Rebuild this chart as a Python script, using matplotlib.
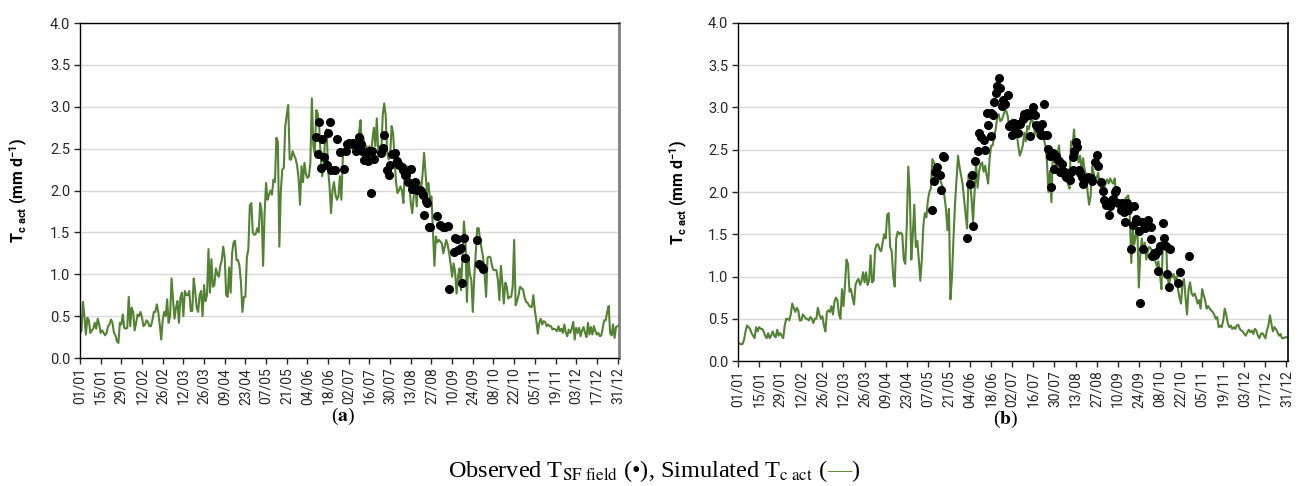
import matplotlib
matplotlib.use("Agg")
import matplotlib.pyplot as plt
import numpy as np

# Daily simulated T_c act (mm/d), day 0 = 01/01 ... day 364 = 31/12
sim_a = [
    0.30, 0.32, 0.67, 0.50, 0.28, 0.48, 0.45, 0.30, 0.33, 0.35,
    0.42, 0.35, 0.47, 0.40, 0.30, 0.33, 0.30, 0.27, 0.30, 0.38,
    0.40, 0.46, 0.42, 0.30, 0.27, 0.20, 0.18, 0.42, 0.40, 0.52,
    0.36, 0.35, 0.36, 0.73, 0.38, 0.60, 0.55, 0.33, 0.42, 0.52,
    0.50, 0.55, 0.48, 0.38, 0.40, 0.45, 0.43, 0.38, 0.38, 0.45,
    0.55, 0.55, 0.64, 0.55, 0.40, 0.22, 0.45, 0.55, 0.50, 0.70,
    0.42, 0.50, 0.95, 0.70, 0.47, 0.60, 0.68, 0.42, 0.72, 0.78,
    0.50, 0.80, 0.75, 0.75, 0.80, 0.56, 0.56, 0.95, 0.80, 0.60,
    0.55, 0.75, 0.80, 0.50, 0.87, 0.68, 0.75, 1.30, 0.78, 1.18,
    0.85, 0.87, 1.07, 1.00, 0.97, 1.10, 1.17, 1.33, 1.20, 0.75,
    0.73, 1.08, 0.78, 1.25, 1.38, 1.40, 1.17, 1.17, 1.10, 0.90,
    0.55, 0.73, 0.73, 1.20, 1.30, 1.82, 1.85, 1.50, 1.47, 1.48,
    1.55, 1.50, 1.85, 1.75, 1.10, 1.73, 2.09, 1.89, 1.95, 2.00,
    1.95, 2.13, 2.10, 2.63, 2.58, 1.33, 2.00, 2.25, 2.27, 2.77,
    2.90, 3.02, 2.37, 2.37, 2.47, 2.42, 2.38, 2.30, 2.15, 1.83,
    2.29, 2.10, 2.33, 2.20, 2.15, 2.17, 2.33, 3.10, 2.53, 2.45,
    2.96, 2.92, 2.75, 2.40, 2.17, 2.29, 2.65, 2.73, 2.25, 2.05,
    1.73, 2.00, 2.10, 1.95, 1.89, 1.93, 2.17, 1.89, 2.40, 2.45,
    2.50, 2.53, 2.55, 2.55, 2.53, 2.60, 2.55, 2.53, 2.57, 2.70,
    2.84, 2.45, 2.63, 2.45, 2.53, 2.37, 2.53, 2.35, 2.60, 2.75,
    2.53, 2.86, 2.45, 2.53, 2.45, 2.90, 3.04, 2.90, 2.45, 2.37,
    2.40, 2.77, 2.69, 2.40, 2.10, 1.97, 2.00, 2.05, 2.00, 1.85,
    2.27, 2.17, 2.29, 2.10, 1.85, 1.73, 1.93, 2.13, 1.81, 2.13,
    2.09, 2.00, 2.20, 2.45, 2.20, 1.97, 2.09, 1.89, 1.93, 1.50,
    1.10, 1.45, 1.38, 1.41, 1.39, 1.37, 1.25, 1.33, 1.41, 1.35,
    1.25, 1.12, 0.97, 1.13, 1.03, 0.77, 0.97, 1.07, 0.81, 1.20,
    1.63, 1.40, 0.67, 1.20, 1.00, 0.93, 0.55, 0.98, 1.25, 1.55,
    1.55, 1.40, 1.30, 1.20, 1.00, 0.73, 1.20, 1.21, 1.20, 1.10,
    1.05, 1.05, 1.05, 0.93, 0.69, 1.10, 0.90, 0.65, 0.90, 0.85,
    0.71, 0.73, 0.73, 0.85, 1.41, 0.63, 0.68, 0.75, 0.85, 0.83,
    0.82, 0.73, 0.67, 0.66, 0.63, 0.61, 0.61, 0.75, 0.57, 0.45,
    0.29, 0.42, 0.47, 0.40, 0.44, 0.43, 0.38, 0.40, 0.38, 0.38,
    0.34, 0.35, 0.34, 0.32, 0.38, 0.32, 0.35, 0.30, 0.40, 0.30,
    0.26, 0.34, 0.30, 0.35, 0.43, 0.22, 0.36, 0.30, 0.36, 0.26,
    0.33, 0.37, 0.30, 0.25, 0.42, 0.28, 0.37, 0.28, 0.38, 0.32,
    0.28, 0.30, 0.26, 0.27, 0.36, 0.45, 0.45, 0.55, 0.62, 0.30,
    0.27, 0.40, 0.24, 0.37, 0.38,
]

sim_b = [
    0.23, 0.20, 0.20, 0.20, 0.25, 0.35, 0.42, 0.40, 0.38, 0.33,
    0.30, 0.27, 0.40, 0.35, 0.40, 0.38, 0.38, 0.35, 0.30, 0.27,
    0.33, 0.27, 0.30, 0.35, 0.30, 0.28, 0.37, 0.30, 0.33, 0.30,
    0.27, 0.42, 0.50, 0.50, 0.48, 0.55, 0.68, 0.63, 0.58, 0.63,
    0.60, 0.48, 0.48, 0.55, 0.53, 0.50, 0.50, 0.48, 0.52, 0.50,
    0.45, 0.50, 0.50, 0.63, 0.55, 0.50, 0.53, 0.42, 0.35, 0.58,
    0.60, 0.58, 0.65, 0.55, 0.70, 0.75, 0.72, 0.55, 0.50, 0.85,
    0.65, 0.90, 1.20, 1.15, 0.82, 0.85, 0.75, 0.67, 0.90, 0.95,
    0.97, 0.90, 0.95, 1.05, 0.93, 1.05, 0.90, 0.95, 1.25, 0.93,
    0.95, 1.32, 1.38, 1.38, 1.32, 1.30, 1.40, 1.50, 1.45, 1.73,
    1.75, 1.35, 1.30, 1.00, 0.88, 1.45, 1.53, 1.50, 1.52, 1.50,
    1.20, 1.15, 1.60, 2.30, 2.00, 1.20, 1.50, 1.85, 1.35, 1.42,
    1.20, 0.95, 1.20, 1.60, 1.75, 1.70, 1.90, 2.00, 2.04, 2.39,
    2.35, 2.31, 2.25, 2.20, 2.15, 2.10, 2.05, 1.95, 1.80, 1.55,
    1.80, 0.73, 1.00, 1.45, 1.85, 2.15, 2.43, 2.30, 2.20, 2.10,
    1.92, 1.75, 1.57, 2.20, 2.12, 1.92, 1.65, 2.00, 2.35, 2.05,
    2.24, 2.33, 2.35, 2.24, 2.31, 2.20, 2.10, 2.40, 2.55, 2.55,
    2.66, 2.74, 2.88, 2.92, 2.84, 2.85, 2.90, 2.96, 2.96, 2.90,
    2.76, 2.76, 2.86, 2.75, 2.65, 2.68, 2.55, 2.43, 2.48, 2.55,
    2.70, 2.60, 2.78, 2.74, 2.82, 2.88, 2.80, 2.70, 2.68, 2.65,
    2.68, 2.72, 2.70, 2.62, 2.55, 2.37, 2.00, 2.25, 1.88, 2.50,
    2.45, 2.30, 2.45, 2.55, 2.35, 2.27, 2.20, 2.16, 2.25, 2.10,
    2.04, 2.60, 2.55, 2.74, 2.50, 2.55, 2.35, 2.43, 2.25, 2.40,
    2.27, 2.20, 2.00, 1.85, 1.95, 2.30, 2.23, 2.12, 2.16, 2.23,
    2.10, 2.05, 2.12, 2.05, 2.10, 2.15, 2.10, 2.16, 2.12, 2.10,
    2.16, 1.95, 1.87, 1.80, 1.75, 1.73, 1.80, 1.92, 1.94, 1.96,
    1.72, 1.16, 1.57, 1.38, 1.49, 1.60, 0.87, 1.26, 1.45, 1.30,
    1.40, 1.20, 1.30, 1.35, 1.33, 1.30, 1.25, 1.18, 1.12, 1.18,
    1.03, 0.85, 1.42, 1.35, 1.46, 0.98, 0.91, 0.99, 0.99, 1.03,
    0.95, 1.00, 0.85, 0.75, 0.68, 0.92, 0.97, 0.75, 0.55, 0.85,
    0.93, 0.80, 0.77, 0.80, 0.75, 0.68, 0.72, 0.62, 0.85, 0.78,
    0.72, 0.62, 0.65, 0.62, 0.60, 0.58, 0.55, 0.50, 0.52, 0.40,
    0.42, 0.40, 0.48, 0.62, 0.55, 0.45, 0.40, 0.42, 0.38, 0.40,
    0.38, 0.42, 0.43, 0.38, 0.36, 0.35, 0.32, 0.30, 0.34, 0.37,
    0.34, 0.36, 0.32, 0.38, 0.36, 0.30, 0.27, 0.32, 0.33, 0.30,
    0.27, 0.36, 0.42, 0.54, 0.44, 0.35, 0.40, 0.38, 0.34, 0.30,
    0.32, 0.27, 0.27, 0.28, 0.28,
]

# Observed T_SF field (day of year, mm/d)
obs_a_day = [160, 161, 162, 163, 164, 165, 167, 168, 169, 170, 173, 174, 176, 179, 180,
             181, 182, 184, 185, 187, 188, 189, 190, 191, 192, 194, 195, 196, 197, 198,
             199, 204, 205, 206, 208, 209, 210, 211, 213, 215, 216, 218, 219, 220, 221,
             222, 224, 225, 227, 228, 230, 231, 232, 233, 234, 235, 236, 237, 242, 244,
             246, 247, 249, 250, 253, 254, 255, 256, 258, 259, 260, 261, 269, 270, 272, 273]
obs_a_val = [2.64, 2.43, 2.82, 2.27, 2.61, 2.40, 2.31, 2.69, 2.82, 2.24, 2.25, 2.61, 2.46, 2.26, 2.47,
             2.55, 2.57, 2.56, 2.57, 2.47, 2.55, 2.64, 2.55, 2.47, 2.36, 2.44, 2.35, 2.47, 1.97, 2.47,
             2.38, 2.45, 2.51, 2.66, 2.25, 2.18, 2.30, 2.44, 2.45, 2.35, 2.30, 2.28, 2.24, 2.19, 2.18,
             2.10, 2.26, 2.02, 2.10, 2.01, 2.01, 2.00, 1.95, 1.71, 1.87, 1.85, 1.57, 1.56, 1.69, 1.59,
             1.57, 1.57, 1.58, 0.82, 1.26, 1.43, 1.42, 1.29, 1.31, 0.90, 1.43, 1.20, 1.41, 1.12, 1.09, 1.06]

obs_b_day = [129, 130, 131, 132, 134, 135, 136, 137, 152, 154, 155, 156, 157, 159, 160,
             161, 163, 164, 165, 166, 168, 168, 169, 170, 171, 172, 173, 174, 175, 176,
             177, 179, 180, 181, 182, 183, 184, 185, 186, 187, 189, 190, 191, 192, 193,
             194, 195, 196, 197, 198, 200, 201, 202, 203, 204, 205, 206, 207, 208, 209,
             210, 211, 212, 213, 214, 215, 216, 217, 218, 220, 221, 222, 222, 223, 224,
             225, 226, 227, 228, 229, 231, 232, 234, 235, 237, 238, 239, 241, 242, 243,
             244, 246, 247, 248, 249, 250, 251, 252, 254, 255, 256, 257, 258, 259, 261,
             262, 263, 264, 265, 266, 267, 268, 269, 270, 271, 272, 274, 274, 275, 276,
             277, 279, 279, 280, 282, 283, 284, 285, 286, 287, 292, 293, 299]
obs_b_val = [1.79, 2.13, 2.24, 2.29, 2.20, 2.02, 2.43, 2.41, 1.46, 2.09, 2.20, 1.60, 2.37, 2.48, 2.70,
             2.65, 2.61, 2.50, 2.94, 2.79, 2.94, 2.66, 2.91, 3.07, 3.17, 3.25, 3.35, 3.23, 3.02, 3.09,
             3.04, 3.15, 2.78, 2.80, 2.68, 2.82, 2.74, 2.80, 2.70, 2.80, 2.86, 2.92, 2.90, 2.94, 2.91,
             2.66, 2.94, 3.00, 2.91, 2.79, 2.74, 2.68, 2.80, 3.04, 2.68, 2.68, 2.51, 2.43, 2.06, 2.46,
             2.27, 2.43, 2.39, 2.37, 2.24, 2.33, 2.22, 2.24, 2.18, 2.14, 2.24, 2.26, 2.41, 2.49, 2.59,
             2.53, 2.26, 2.22, 2.18, 2.10, 2.16, 2.18, 2.16, 2.13, 2.35, 2.44, 2.31, 2.12, 2.01, 1.90,
             1.85, 1.73, 1.83, 1.90, 1.92, 2.00, 2.02, 1.87, 1.79, 1.87, 1.76, 1.65, 1.87, 1.79, 1.32,
             1.61, 1.84, 1.68, 1.66, 1.54, 0.69, 1.65, 1.32, 1.57, 1.65, 1.67, 1.59, 1.44, 1.24, 1.28,
             1.25, 1.30, 1.07, 1.36, 1.63, 1.46, 1.36, 1.03, 0.88, 1.32, 0.92, 1.05, 1.24]

tick_days = list(range(0, 365, 14))
tick_labels = ['01/01', '15/01', '29/01', '12/02', '26/02', '12/03', '26/03', '09/04', '23/04',
               '07/05', '21/05', '04/06', '18/06', '02/07', '16/07', '30/07', '13/08', '27/08',
               '10/09', '24/09', '08/10', '22/10', '05/11', '19/11', '03/12', '17/12', '31/12']

green = '#548235'

plt.rcParams['font.family'] = ['Roboto', 'DejaVu Sans']
plt.rcParams['mathtext.fontset'] = 'custom'
plt.rcParams['mathtext.rm'] = 'Roboto'
plt.rcParams['mathtext.bf'] = 'Roboto:bold'
plt.rcParams['mathtext.it'] = 'Roboto:italic'

fig = plt.figure(figsize=(13.02, 4.86), dpi=100)
ax_a = fig.add_axes([80 / 1302, 128 / 486, 539 / 1302, 335 / 486])
ax_b = fig.add_axes([738 / 1302, 125 / 486, 550 / 1302, 338 / 486])


def style_panel(ax, sim, obs_day, obs_val, right_color, right_lw):
    days = np.arange(len(sim))
    ax.plot(days, sim, color=green, lw=1.5, zorder=2)
    ax.plot(obs_day, obs_val, 'o', color='black', ms=5.5, zorder=3)
    ax.set_xlim(0, 365)
    ax.set_ylim(0, 4)
    ax.set_yticks(np.arange(0, 4.01, 0.5))
    ax.set_yticklabels([f'{v:.1f}' for v in np.arange(0, 4.01, 0.5)])
    ax.set_xticks(tick_days)
    ax.set_xticklabels(tick_labels, rotation=90)
    ax.grid(axis='y', color='#d9d9d9', lw=1.0, zorder=0)
    ax.tick_params(axis='both', direction='out', length=4, width=1, labelsize=10.5,
                   colors='#262626', pad=3)
    ax.tick_params(axis='x', labelsize=10)
    for side in ['left', 'bottom', 'top']:
        ax.spines[side].set_color('black')
        ax.spines[side].set_linewidth(1.0)
    ax.spines['right'].set_color(right_color)
    ax.spines['right'].set_linewidth(right_lw)
    ax.set_ylabel(r'$\mathbf{T_{c\ act}}$ (mm d$\mathbf{^{-1}}$)', fontsize=11.5,
                  fontweight='bold', color='black')


style_panel(ax_a, sim_a, obs_a_day, obs_a_val, '#7f7f7f', 2.0)
style_panel(ax_b, sim_b, obs_b_day, obs_b_val, 'black', 1.2)
ax_a.yaxis.set_label_coords(-0.093, 0.5)
ax_b.yaxis.set_label_coords(-0.087, 0.5)

# panel letters
fig.text(343 / 1302, 1 - 416 / 486, r'($\mathbf{a}$)', family='Liberation Serif',
         math_fontfamily='stix', fontsize=14, ha='center', va='center')
fig.text(1006 / 1302, 1 - 419 / 486, r'($\mathbf{b}$)', family='Liberation Serif',
         math_fontfamily='stix', fontsize=14, ha='center', va='center')

# caption with a green dash
cap_y = 1 - 477 / 486
cap_kw = dict(family='Liberation Serif', math_fontfamily='stix', fontsize=17.5,
              va='baseline', ha='left')
t1 = fig.text(0, cap_y, r'Observed T$_{\mathrm{SF\ field}}$ (•), Simulated T$_{\mathrm{c\ act}}$ (', **cap_kw)
t2 = fig.text(0, cap_y, '—', color=green, **cap_kw)
t3 = fig.text(0, cap_y, ')', **cap_kw)
fig.canvas.draw()
r = fig.canvas.get_renderer()
w1 = t1.get_window_extent(r).width / fig.bbox.width
w2 = t2.get_window_extent(r).width / fig.bbox.width
w3 = t3.get_window_extent(r).width / fig.bbox.width
x0 = 0.502 - (w1 + w2 + w3) / 2
t1.set_x(x0)
t2.set_x(x0 + w1)
t3.set_x(x0 + w1 + w2)

fig.savefig('out.png', dpi=100)
